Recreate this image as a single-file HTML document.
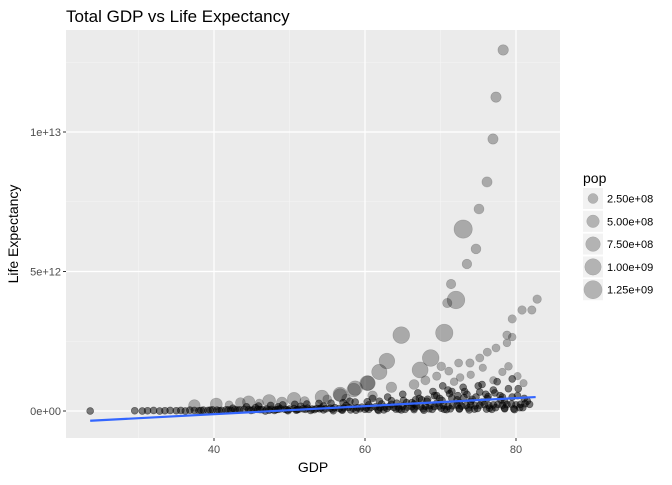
<!DOCTYPE html>
<html><head><meta charset="utf-8"><style>
body{margin:0;background:#fff;}
svg text{font-family:"Liberation Sans",Arial,sans-serif;}
</style></head><body>
<svg id="chart" width="672" height="480" xmlns="http://www.w3.org/2000/svg">
<text x="66" y="22" font-size="17" fill="#000">Total GDP vs Life Expectancy</text>
<rect x="66" y="30" width="494" height="408" fill="#ebebeb"/>
<g id="grid"></g>
<g id="points"></g>
<g id="fit"></g>
<g id="axes"></g>
<text x="313" y="472" font-size="14" text-anchor="middle">GDP</text>
<text transform="translate(18,234) rotate(-90)" font-size="14" text-anchor="middle">Life Expectancy</text>
<g id="legend">
<text x="583" y="183" font-size="14">pop</text>
</g>
</svg>
<script>
// big bubbles: life expectancy, gdp (1e12), pop (1e8)
const lifeExp=[78.3,77.35,76.95,76.16,75.1,74.7,73.5,71.4,70.9,
73.0,72.05,70.5,68.7,67.3,64.8,62.9,61.9,60.4,58.5,56.7,37.4,40.3,44.6,47.3,50.6,54.3,56.7,58.7,60.3,
82.8,82.1,80.8,79.5,78.8,79.5,78.8,77.35,76.2,75.2,73.9,72.4,71.1,
70.1,69.5,71.8,72.6,74.0,75.6,77.0,78.2,79.0,80.2,81.0,66.5,68.0,63.5,61.0,57.5,55.0,52.0,49.0,46.0,43.5,42.0];
const gdp=[12.94,11.25,9.75,8.21,7.24,5.81,5.27,4.55,3.87,
6.52,3.98,2.80,1.90,1.47,2.72,1.79,1.40,1.00,0.75,0.57,0.20,0.25,0.32,0.36,0.43,0.50,0.60,0.82,1.00,
4.01,3.62,3.62,3.30,2.72,2.65,2.44,2.26,2.11,1.90,1.72,1.72,1.43,
1.60,1.25,1.05,1.20,1.30,1.55,1.10,1.40,1.60,1.25,1.00,0.95,1.10,0.85,0.55,0.45,0.42,0.35,0.30,0.28,0.30,0.22];
const pop=[3.0,2.9,2.8,2.7,2.5,2.4,2.2,2.1,2.0,
13.0,12.0,11.5,10.5,9.5,10.5,9.0,8.5,7.5,6.5,5.5,4.0,4.5,5.0,5.5,6.0,6.5,7.0,7.5,8.0,
1.3,1.2,1.3,1.2,1.2,0.8,0.8,1.0,1.1,1.1,1.2,1.0,1.0,
1.5,1.2,0.8,0.8,0.7,0.6,0.6,0.6,0.8,0.6,0.5,2.5,1.8,3.0,2.2,1.5,1.6,2.0,3.5,1.2,2.5,1.0];
// dense band of small countries
const bandX=[23.6,29.5,30.5,31.2,32,32.8,33.5,34.2,35,35.6,36.2,36.8,37.4,38,38.6,39.2,39.8,40.4,41,41.6,42.2,42.8,43.4,44,44.6,45.2,45.8,46.4,47,47.6,48.2,48.8,49.4,50,50.6,51.2,51.8,52.4,53,53.6,54.2,54.8,55.4,56,56.6,57.2,57.8,58.4,59,59.6,60.2,60.8,61.4,62,62.6,63.2,63.8,64.4,65,65.6,66.2,66.8,67.4,68,68.6,69.2,69.8,70.4,71,71.6,72.2,72.8,73.4,74,74.6,75.2,75.8,76.4,77,77.6,78.2,78.8,79.4,80,80.6,81.2,81.8,
44.3,45.9,47.5,49.1,50.7,52.3,53.9,55.5,57.1,58.7,60.3,61.9,63.5,65.1,66.7,68.3,69.9,71.5,73.1,74.7,76.3,77.9,79.5,81.1,
48,51,54,57,60,62.5,64.5,66.5,68.5,70.5,72.5,74.5,76.5,78.5,80.5,
58,61,63,65,67,69,71,73,75,77,79,
65.5,67.5,69.5,71.5,73.5,75.5,77.5,79.5,74,76,78,80.3,81.5,70.3,72.3,
38.3,39.5,40.7,41.9,43.1,44.9,46.1,47.3,48.5,49.7,50.9,52.1,53.3,54.5,55.7,56.9,58.1,59.3,60.5,61.7,62.9,64.1,65.3,66.5,67.7,68.9,70.1,71.3,72.5,73.7,74.9,76.1,77.3,78.5,79.7,80.9,
42.5,45.5,48.5,51.5,54.5,57.5,60.5,63.5,66.5,69.5,72.5,75.5,78.5,
46.8,49.8,52.8,55.8,58.8,61.8,64.8,67.8,70.8,73.8,76.8,79.8,
62.2,64.2,66.2,68.2,70.2,72.2,74.2,76.2,78.2,80.2,71.2,73.2,75.2,77.2,69.2,67.2];
const bandY=[0.0,0.01,0.0,0.01,0.02,0.0,0.01,0.02,0.01,0.02,0.0,0.03,0.02,0.01,0.03,0.02,0.04,0.03,0.02,0.04,0.03,0.05,0.04,0.06,0.05,0.04,0.06,0.05,0.07,0.06,0.05,0.08,0.06,0.07,0.09,0.06,0.08,0.1,0.07,0.09,0.11,0.08,0.1,0.12,0.09,0.11,0.13,0.1,0.12,0.14,0.11,0.13,0.15,0.12,0.14,0.16,0.13,0.15,0.17,0.14,0.16,0.18,0.15,0.17,0.19,0.16,0.18,0.2,0.17,0.19,0.21,0.18,0.2,0.22,0.19,0.21,0.23,0.2,0.22,0.24,0.21,0.23,0.25,0.22,0.24,0.26,0.24,
0.15,0.18,0.2,0.22,0.24,0.25,0.27,0.28,0.3,0.32,0.33,0.35,0.37,0.38,0.4,0.42,0.45,0.46,0.48,0.5,0.52,0.55,0.5,0.45,
0.02,0.05,0.08,0.03,0.06,0.04,0.07,0.05,0.08,0.06,0.09,0.07,0.1,0.08,0.12,
0.35,0.45,0.5,0.6,0.65,0.7,0.75,0.85,0.9,0.75,0.8,
0.3,0.4,0.55,0.7,0.6,0.95,1.05,1.15,0.35,0.6,0.4,0.8,0.35,0.9,0.55,
0.02,0.03,0.01,0.04,0.03,0.02,0.05,0.03,0.06,0.04,0.03,0.06,0.05,0.04,0.07,0.05,0.04,0.08,0.06,0.05,0.09,0.07,0.06,0.1,0.08,0.06,0.1,0.08,0.07,0.11,0.09,0.07,0.12,0.1,0.08,0.12,
0.1,0.12,0.15,0.17,0.18,0.2,0.22,0.24,0.25,0.28,0.3,0.32,0.34,
0.0,0.01,0.02,0.01,0.03,0.02,0.04,0.03,0.05,0.04,0.06,0.05,
0.25,0.28,0.3,0.35,0.38,0.4,0.42,0.45,0.5,0.55,0.62,0.7,0.68,0.65,0.55,0.45];
const bandP=bandX.map(()=>0.2);
const lineX=[23.6,82.6];
const lineY=[-0.35,0.5];
const xTicks=[40,60,80];
const yTicks=[0,5,10];
const yTickLabels=["0e+00","5e+12","1e+13"];
const legendPop=[2.5,5,7.5,10,12.5];
const legendLabels=["2.50e+08","5.00e+08","7.50e+08","1.00e+09","1.25e+09"];

const NS="http://www.w3.org/2000/svg";
const sx=v=>214+(v-40)*7.55;
const sy=v=>411-v*27.9;
const rad=p=>Math.sqrt(11+56*p/10);
function mk(tag,attrs,parent){const e=document.createElementNS(NS,tag);for(const k in attrs)e.setAttribute(k,attrs[k]);parent.appendChild(e);return e;}
const grid=document.getElementById('grid');
[30,50,70].forEach(v=>{const l=mk('line',{x1:sx(v),x2:sx(v),y1:30,y2:438,stroke:'#f5f5f5','stroke-width':0.6},grid);

});
[2.5,7.5,12.5].forEach(v=>{const l=mk('line',{x1:66,x2:560,y1:sy(v),y2:sy(v),stroke:'#f5f5f5','stroke-width':0.6},grid);

});
const axes=document.getElementById('axes');
xTicks.forEach(v=>{const l=mk('line',{x1:sx(v),x2:sx(v),y1:30,y2:438,stroke:'#fff','stroke-width':1.2},grid);


const t=mk('line',{x1:sx(v),x2:sx(v),y1:438,y2:441,stroke:'#333'},axes);


const tx=mk('text',{x:sx(v),y:453,'font-size':11,fill:'#4d4d4d','text-anchor':'middle'},axes);tx.textContent=v;

});
yTicks.forEach((v,i)=>{const l=mk('line',{x1:66,x2:560,y1:sy(v),y2:sy(v),stroke:'#fff','stroke-width':1.2},grid);


const t=mk('line',{x1:63,x2:66,y1:sy(v),y2:sy(v),stroke:'#333'},axes);


const tx=mk('text',{x:61,y:sy(v)+4,'font-size':11,fill:'#4d4d4d','text-anchor':'end'},axes);tx.textContent=yTickLabels[i];

});
const pts=document.getElementById('points');
bandX.forEach((x,i)=>{const c=mk('circle',{cx:sx(x),cy:sy(bandY[i]),r:rad(bandP[i]),fill:'rgba(0,0,0,0.5)',stroke:'rgba(0,0,0,0.5)','stroke-width':0.6},pts);

});
lifeExp.forEach((x,i)=>{const c=mk('circle',{cx:sx(x),cy:sy(gdp[i]),r:rad(pop[i]),fill:'rgba(0,0,0,0.28)',stroke:'rgba(0,0,0,0.2)','stroke-width':0.6},pts);

});
const fit=document.getElementById('fit');
const fl=mk('line',{x1:sx(lineX[0]),y1:sy(lineY[0]),x2:sx(lineX[1]),y2:sy(lineY[1]),stroke:'#3366ff','stroke-width':2.2},fit);


const leg=document.getElementById('legend');
legendPop.forEach((p,i)=>{const y=188+i*22.8;
const b=mk('rect',{x:583,y:y,width:20,height:21,fill:'#f2f2f2'},leg);


const c=mk('circle',{cx:593,cy:y+10.5,r:rad(p),fill:'#b3b3b3',stroke:'#a6a6a6','stroke-width':0.5},leg);


const t=mk('text',{x:607,y:y+14.5,'font-size':11,fill:'#000'},leg);t.textContent=legendLabels[i];

});
</script>
</body></html>
